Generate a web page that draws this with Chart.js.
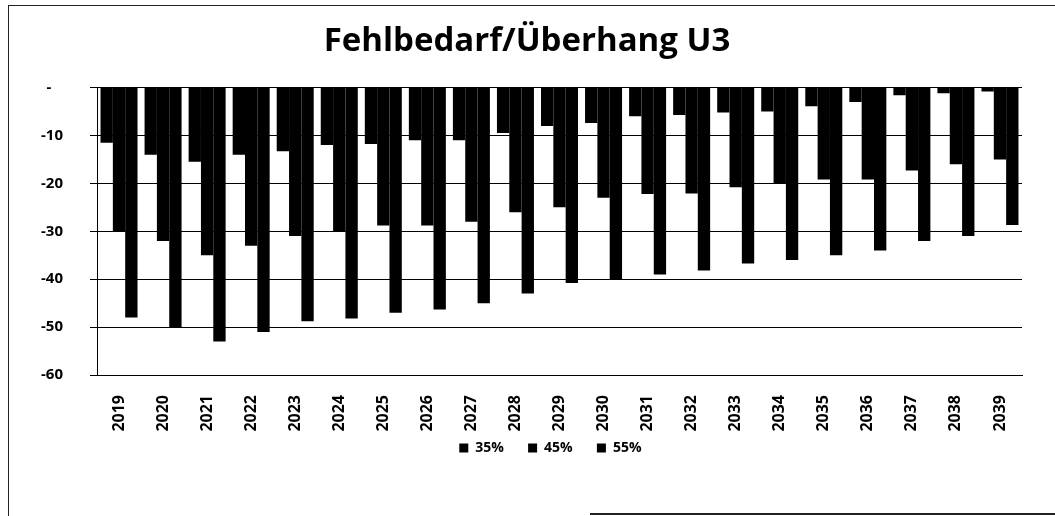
<!DOCTYPE html>
<html>
<head>
<meta charset="utf-8">
<script src="https://cdn.jsdelivr.net/npm/chart.js@4"></script>
<style>
  html, body { margin: 0; padding: 0; background: #fff; }
  body { width: 1055px; height: 516px; overflow: hidden; position: relative; }
  .frame { position: absolute; left: 8px; top: 5px; width: 1100px; height: 600px; border: 1px solid #222; }
  .bottom-line { position: absolute; left: 590px; top: 513px; width: 470px; height: 0; border-top: 2px solid #222; }
  canvas { position: absolute; left: 0; top: 0; }
</style>
</head>
<body>
<div class="frame"></div>
<div class="bottom-line"></div>
<canvas id="chart" width="1055" height="516"></canvas>
<script>
const years = ["2019", "2020", "2021", "2022", "2023", "2024", "2025", "2026", "2027", "2028", "2029",
  "2030", "2031", "2032", "2033", "2034", "2035", "2036", "2037", "2038", "2039"];
const rate35 = [-11.5, -14, -15.5, -14, -13.3, -12, -11.8, -11, -11, -9.5, -8,
  -7.4, -6, -5.7, -5.2, -5, -3.9, -3, -1.6, -1.2, -0.8];
const rate45 = [-30, -32, -35, -33, -31, -30, -28.8, -28.8, -28, -26, -25,
  -23, -22.2, -22.1, -20.8, -20, -19.2, -19.2, -17.3, -16, -15];
const rate55 = [-48, -50, -53, -51, -48.8, -48.2, -47, -46.3, -45, -43, -40.8,
  -40, -39, -38.2, -36.7, -36, -35, -34, -32, -31, -28.7];
const seriesNames = ["35%", "45%", "55%"];
const yTicks = [0, -10, -20, -30, -40, -50, -60];

const font = "'Open Sans', Lato, sans-serif";

new Chart("chart", {
  type: "bar",
  data: {
    labels: years,
    datasets: [
      { label: seriesNames[0], data: rate35, backgroundColor: "#000" },
      { label: seriesNames[1], data: rate45, backgroundColor: "#000" },
      { label: seriesNames[2], data: rate55, backgroundColor: "#000" },
    ],
  },
  options: {
    responsive: false,
    animation: false,
    categoryPercentage: 0.84,
    barPercentage: 1.0,
    layout: { padding: { left: 32, right: 33, top: 0, bottom: 51 } },
    plugins: {
      title: {
        display: true,
        text: "Fehlbedarf/Überhang U3",
        color: "#000",
        font: { family: font, size: 33, weight: "bold" },
        padding: { top: 22, bottom: 26 },
      },
      legend: {
        position: "bottom",
        fullSize: false,
        labels: {
          color: "#000",
          font: { family: font, size: 14, weight: "bold" },
          boxWidth: 9,
          boxHeight: 9,
          padding: 6,
          // extra room after each entry, as in the original legend
          generateLabels: function (chart) {
            const items = Chart.defaults.plugins.legend.labels.generateLabels(chart);
            items.forEach((item) => { item.text = item.text + "     "; });
            return items;
          },
        },
      },
      tooltip: { enabled: false },
    },
    scales: {
      x: {
        grid: { display: false },
        border: { display: true, color: "#000", width: 1 },
        ticks: {
          color: "#000",
          font: { family: font, size: 16, weight: "bold" },
          minRotation: 90,
          maxRotation: 90,
          padding: 12,
        },
        afterFit: function (scale) {
          scale.height = 60;
        },
      },
      y: {
        min: -60,
        max: 0,
        grid: { color: "#000", lineWidth: 1, tickLength: 7 },
        border: { display: true, color: "#000", width: 1 },
        afterBuildTicks: function (scale) {
          scale.ticks = yTicks.map((v) => ({ value: v }));
        },
        ticks: {
          color: "#000",
          font: { family: font, size: 15, weight: "bold" },
          padding: 27,
          callback: function (value) {
            return value === 0 ? "-   " : String(value);
          },
        },
        afterFit: function (scale) {
          scale.width = 65;
        },
      },
    },
  },
});
</script>
</body>
</html>
